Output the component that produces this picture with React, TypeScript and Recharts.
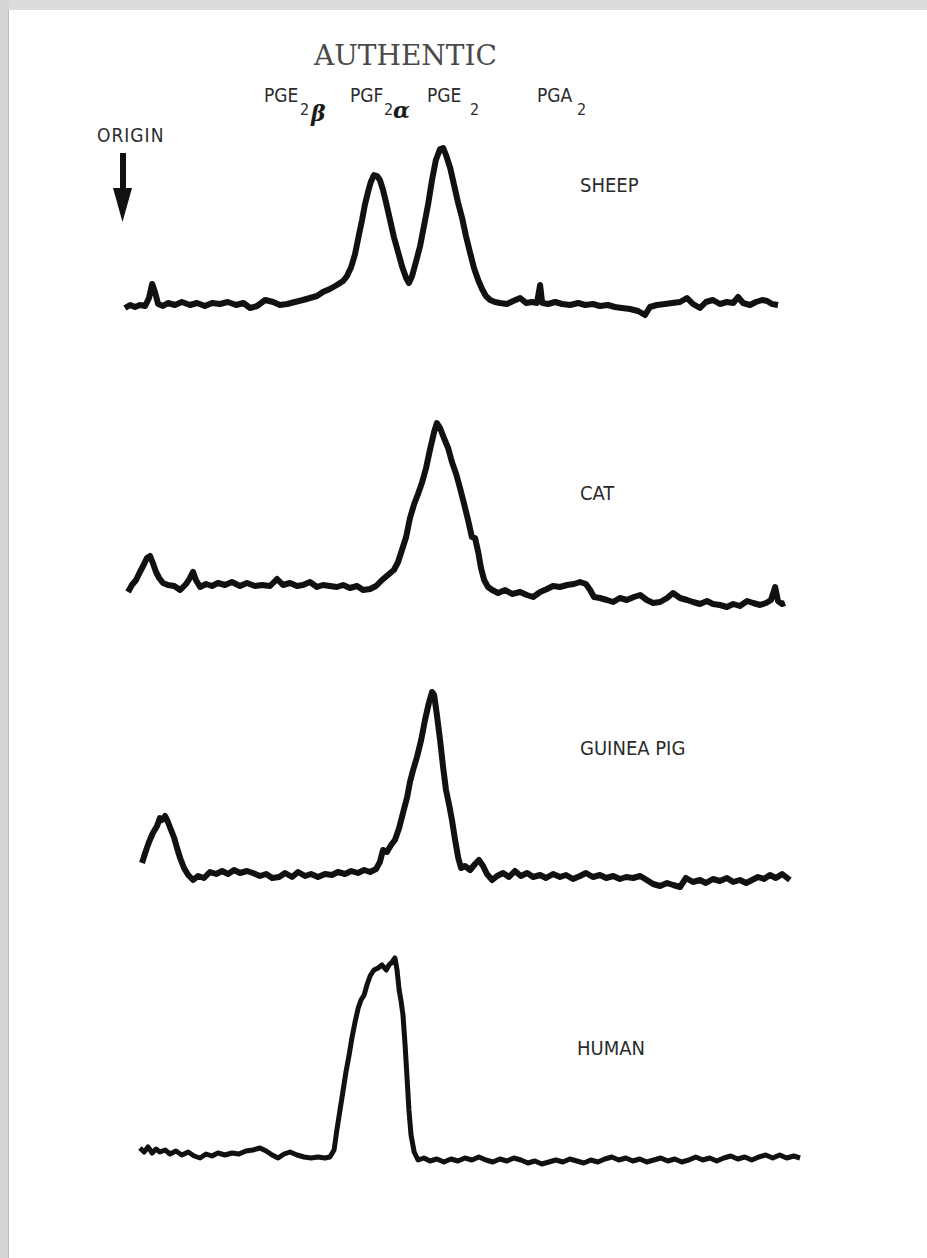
import React from "react";
import { LineChart, Line, XAxis, YAxis } from "recharts";

// Radiochromatogram scans: distance from origin (mm) and counts (arbitrary units)
const sheepMm = [
  0.7, 2.2, 3.6, 5.0, 6.5, 7.6, 8.5, 9.3, 10.2, 11.6,
  13.0, 15.0, 17.0, 19.3, 21.3, 23.6, 25.6, 27.9, 30.1, 32.5,
  34.6, 36.5, 38.5, 40.8, 43.1, 45.0, 47.1, 49.3, 51.6, 53.6,
  55.6, 57.3, 59.3, 61.3, 63.1, 64.2, 65.4, 66.5, 67.6, 68.5,
  69.3, 70.2, 71.0, 71.9, 72.8, 73.6, 74.5, 75.4, 76.5, 77.6,
  78.8, 79.9, 81.1, 81.9, 82.8, 83.9, 85.1, 86.2, 87.4, 88.5,
  89.6, 90.8, 91.7, 92.5, 93.7, 94.8, 95.9, 97.1, 98.2, 99.4,
  100.5, 101.7, 102.8, 103.9, 105.1, 106.5, 107.9, 109.9, 111.7, 113.7,
  115.4, 117.1, 118.5, 119.4, 120.0, 121.7, 123.7, 125.7, 128.0, 130.3,
  132.3, 134.5, 136.5, 138.8, 140.8, 142.8, 145.1, 147.4, 149.4, 150.8,
  152.8, 155.1, 157.1, 159.4, 161.4, 163.1, 165.1, 166.8, 168.8, 170.8,
  172.8, 174.6, 176.0, 177.4, 179.4, 181.1, 182.9, 184.3, 185.7, 187.4,
];
const sheepCpm = [
  6.0, 7.5, 6.5, 7.5, 7.0, 11, 18, 14, 8, 7,
  8.5, 7.5, 9, 7.5, 8.5, 7, 8.5, 8, 9, 7.5,
  8.5, 6, 7, 10, 9, 7.5, 8, 9, 10, 11,
  12, 14, 15.5, 17.5, 19.5, 22, 26.5, 33, 42.5, 50,
  57.5, 64, 69, 72.5, 72, 70, 65, 58.5, 50, 41.5,
  34, 27, 21, 18.5, 22, 29, 37, 47, 58, 70,
  80, 85.5, 86, 82.5, 76, 67.5, 59, 51, 42, 33.5,
  26, 20, 15.5, 12, 10, 9, 8.5, 8, 9.5, 11,
  8.5, 9, 8.5, 17.5, 8.5, 8, 9, 8, 7.5, 8.5,
  7.5, 8, 7, 7.5, 6.5, 6, 5.5, 4.5, 2.5, 6.5,
  7.5, 8, 8.5, 9, 11, 8, 6, 9, 10, 8,
  9, 8.5, 11.5, 8.5, 7.5, 9, 10, 9.5, 8, 7.5,
];

const catMm = [
  1.6, 2.7, 3.9, 5.0, 6.2, 7.0, 7.9, 8.7, 9.6, 10.5,
  11.6, 13.0, 14.8, 16.5, 18.2, 19.3, 20.2, 21.0, 22.2, 23.9,
  25.6, 27.3, 29.3, 31.3, 33.6, 35.6, 37.9, 39.9, 42.2, 44.2,
  45.9, 47.9, 49.9, 51.6, 53.6, 55.6, 57.3, 59.3, 61.3, 63.1,
  65.0, 67.1, 68.8, 70.8, 72.5, 74.2, 75.9, 77.6, 78.8, 79.9,
  81.1, 82.2, 83.4, 84.5, 85.7, 86.8, 87.9, 89.1, 89.9, 90.8,
  91.9, 93.1, 94.2, 95.4, 96.5, 97.6, 98.8, 99.9, 100.8, 101.7,
  102.5, 103.4, 104.5, 105.7, 107.4, 109.4, 111.4, 113.7, 115.6, 117.4,
  119.4, 121.4, 123.1, 125.1, 127.1, 129.1, 130.8, 132.5, 133.7, 134.8,
  136.5, 138.5, 140.3, 142.2, 144.2, 146.2, 148.0, 149.9, 151.7, 153.7,
  155.7, 157.4, 159.4, 161.4, 163.1, 165.1, 167.1, 168.8, 170.8, 172.8,
  174.6, 176.5, 178.6, 180.3, 182.3, 184.0, 185.4, 186.6, 187.4, 188.6,
  189.4,
];
const catCpm = [
  11.5, 15, 17.5, 21.5, 25.5, 28.5, 29.5, 26, 21.5, 18.5,
  16, 15, 14.5, 12.5, 15.5, 18.5, 21.5, 17.5, 14, 15.5,
  14.5, 16, 15, 16.5, 14.5, 16, 14.5, 15, 14.5, 18,
  15, 16, 14.5, 15, 16.5, 14, 15, 14.5, 14, 15,
  13.5, 14.5, 12.5, 13, 14.5, 17.5, 20, 22.5, 26.5, 32.5,
  39, 48.5, 55.5, 60.5, 66.5, 73.5, 82.5, 91.5, 96, 93.5,
  88.5, 83.5, 76.5, 70.5, 63.5, 56, 47.5, 39, 38.5, 31.5,
  23.5, 17.5, 14, 12.5, 11, 12.5, 10.5, 11.5, 10, 9,
  11.5, 13, 14.5, 14, 15, 15.5, 16.5, 15.5, 12.5, 9,
  8.5, 7.5, 6.5, 8.5, 7.5, 9, 10, 7.5, 6, 6.5,
  8.5, 11, 8.5, 7.5, 6.5, 5.5, 7, 5.5, 5, 4,
  5.5, 4.5, 7, 6, 5, 6, 7.5, 14, 7, 5.5,
  6,
];

const guineaPigMm = [
  5.6, 6.5, 7.6, 8.7, 9.9, 10.7, 11.3, 12.2, 13.0, 13.9,
  14.8, 15.6, 16.5, 17.6, 18.8, 20.2, 21.6, 23.3, 25.0, 26.8,
  28.5, 30.2, 31.9, 33.6, 35.6, 37.3, 39.3, 41.1, 42.8, 44.8,
  46.5, 48.5, 50.2, 52.2, 53.9, 55.9, 57.9, 59.9, 61.6, 63.6,
  65.4, 67.3, 69.1, 70.8, 72.5, 73.6, 74.5, 75.6, 76.8, 77.9,
  79.1, 80.2, 81.4, 82.2, 83.1, 84.2, 85.4, 86.5, 87.6, 88.5,
  89.1, 89.9, 90.8, 91.7, 92.5, 93.4, 94.2, 95.1, 96.0, 96.8,
  97.9, 99.4, 100.8, 101.9, 103.1, 104.2, 105.7, 107.1, 108.8, 110.5,
  112.2, 113.9, 115.7, 117.4, 119.4, 121.1, 123.1, 125.1, 126.8, 128.8,
  130.8, 132.5, 134.5, 136.5, 138.3, 140.3, 142.2, 144.0, 146.0, 148.0,
  149.9, 151.7, 153.7, 155.7, 157.4, 159.4, 161.1, 163.1, 165.1, 166.8,
  168.8, 170.8, 172.8, 174.6, 176.5, 178.3, 180.0, 181.7, 183.4, 185.1,
  186.8, 188.6, 189.7, 190.8,
];
const guineaPigCpm = [
  13.5, 18.5, 24, 28.5, 32, 36, 35, 37, 34, 30,
  26, 21, 16, 11, 7.5, 5, 7, 6, 9, 8,
  9.5, 8, 10, 8.5, 9.5, 8.5, 7, 8, 6, 6.5,
  8.5, 6.5, 9, 7, 8, 6.5, 8, 7.5, 9, 8,
  9.5, 8.5, 10, 9, 10.5, 14, 20, 19, 22.5, 25,
  31, 38.5, 46.5, 54, 60, 66.5, 75, 85, 93.5, 99,
  97.5, 87.5, 75, 61, 50, 42.5, 35, 25, 16, 11,
  12, 10, 13, 15, 12, 8, 5, 7, 8.5, 6.5,
  9.5, 7, 8.5, 6.5, 7.5, 6, 8, 6.5, 7.5, 5.5,
  7, 8.5, 6.5, 7.5, 6, 7, 5.5, 6.5, 6, 7,
  5, 3, 2, 3.5, 2.5, 1.5, 6, 4, 5, 3.5,
  5.5, 4.5, 6, 4, 5, 3.5, 5, 6.5, 5.5, 7.5,
  6, 8, 6.5, 5,
];

const humanMm = [
  5.0, 6.2, 7.3, 8.5, 9.6, 10.7, 12.2, 13.6, 15.3, 17.0,
  18.8, 20.5, 22.2, 23.9, 25.6, 27.3, 29.3, 31.3, 33.3, 35.3,
  37.3, 39.3, 41.1, 42.8, 44.5, 46.2, 47.9, 49.9, 51.9, 53.9,
  55.9, 57.9, 59.3, 60.5, 61.3, 62.2, 63.1, 63.9, 64.8, 65.6,
  66.5, 67.4, 68.2, 69.1, 69.9, 70.8, 71.9, 73.1, 74.2, 75.4,
  76.2, 77.1, 77.9, 78.5, 79.1, 79.6, 80.2, 80.8, 81.4, 81.9,
  82.5, 83.4, 84.5, 86.2, 87.9, 89.9, 91.9, 93.9, 95.9, 97.9,
  99.9, 101.9, 103.9, 105.9, 107.9, 109.9, 111.9, 113.9, 115.9, 117.9,
  119.9, 121.9, 123.9, 125.9, 127.9, 129.9, 131.9, 133.9, 135.9, 137.9,
  139.9, 141.9, 143.9, 145.9, 147.9, 149.9, 151.9, 153.9, 155.9, 157.9,
  159.9, 161.9, 163.9, 165.9, 167.9, 169.9, 171.9, 173.9, 175.9, 177.9,
  179.9, 181.9, 183.9, 185.9, 187.9, 189.9, 191.9, 193.7,
];
const humanCpm = [
  13.5, 11.5, 14, 11, 13, 11.5, 12.5, 10.5, 12, 10,
  11.5, 9.5, 8.5, 10.5, 9.5, 11, 10, 11, 10.5, 12,
  12.5, 13.5, 12, 10, 8.5, 10.5, 11.5, 10, 9, 8.5,
  9, 8.5, 9, 12.5, 22.5, 32.5, 42.5, 51.5, 60, 68.5,
  76.5, 83.5, 87.5, 90, 95, 99.5, 102.5, 103.5, 105, 102.5,
  105, 106.5, 108.5, 102.5, 92.5, 87.5, 80, 65, 47.5, 32.5,
  20, 11.5, 7.5, 8.5, 7, 8, 6.5, 8, 7, 8.5,
  7.5, 9, 7.5, 6.5, 8, 7, 8.5, 7.5, 6, 7,
  5.5, 6.5, 7.5, 6.5, 8, 7, 6, 7.5, 6.5, 8,
  9, 7.5, 8.5, 7, 8, 6.5, 7.5, 8.5, 7, 8,
  6.5, 7.5, 9, 7.5, 8.5, 7, 8.5, 9.5, 8, 9,
  7.5, 9, 10, 8.5, 10, 8.5, 9.5, 8.5,
];

const PAGE_W = 927;
const PAGE_H = 1258;
const STRIP_H = 240;
const LABEL_FONT = "'DejaVu Sans Condensed', 'DejaVu Sans', sans-serif";

const toRows = (mm: number[], cpm: number[]) =>
  mm.map((d, i) => ({ mm: d, cpm: cpm[i] }));

const scans = [
  { key: "sheep", top: 80, rows: toRows(sheepMm, sheepCpm), stroke: 6 },
  { key: "cat", top: 375, rows: toRows(catMm, catCpm), stroke: 6 },
  { key: "guineaPig", top: 650, rows: toRows(guineaPigMm, guineaPigCpm), stroke: 6 },
  { key: "human", top: 935, rows: toRows(humanMm, humanCpm), stroke: 5 },
];

const speciesLabels = [
  { text: "SHEEP", x: 580, y: 192 },
  { text: "CAT", x: 580, y: 500 },
  { text: "GUINEA PIG", x: 580, y: 755 },
  { text: "HUMAN", x: 577, y: 1055 },
];

const Scan = ({ rows, top, stroke }: { rows: { mm: number; cpm: number }[]; top: number; stroke: number }) => (
  <div style={{ position: "absolute", left: 0, top }}>
    <LineChart width={PAGE_W} height={STRIP_H} data={rows} margin={{ top: 0, right: 0, bottom: 0, left: 0 }}>
      <XAxis type="number" dataKey="mm" domain={[-35, 230]} hide allowDataOverflow />
      <YAxis type="number" domain={[0, 120]} hide allowDataOverflow />
      <Line
        type="linear"
        dataKey="cpm"
        stroke="#111"
        strokeWidth={stroke}
        strokeLinejoin="round"
        dot={false}
        isAnimationActive={false}
      />
    </LineChart>
  </div>
);

export default function App() {
  return (
    <div
      style={{
        position: "absolute",
        left: 0,
        top: 0,
        width: PAGE_W,
        height: PAGE_H,
        background: "#fff",
        overflow: "hidden",
      }}
    >
      <svg width={PAGE_W} height={PAGE_H} style={{ position: "absolute", left: 0, top: 0 }}>
        {/* scanned page edges */}
        <rect x={0} y={0} width={PAGE_W} height={10} fill="#dcdcdc" />
        <rect x={0} y={0} width={9} height={PAGE_H} fill="#d6d6d6" />
        <line x1={8.5} y1={10} x2={8.5} y2={PAGE_H} stroke="#bdbdbd" strokeWidth={1} />

        <text x={314} y={65} fontFamily="'DejaVu Serif', serif" fontSize={28} fill="#4a4a4a">
          AUTHENTIC
        </text>

        <g fontFamily={LABEL_FONT} fontStretch="condensed" fill="#2b2b2b">
          <text x={264} y={102} fontSize={19}>
            PGE<tspan x={300} y={115} fontSize={16}>2</tspan>
          </text>
          <text x={350} y={102} fontSize={19}>
            PGF<tspan x={384} y={115} fontSize={16}>2</tspan>
          </text>
          <text x={427} y={102} fontSize={19}>
            PGE<tspan x={470} y={115} fontSize={16}>2</tspan>
          </text>
          <text x={537} y={102} fontSize={19}>
            PGA<tspan x={577} y={115} fontSize={16}>2</tspan>
          </text>
          <text x={97} y={142} fontSize={19} letterSpacing={1}>
            ORIGIN
          </text>
          {speciesLabels.map((l) => (
            <text key={l.text} x={l.x} y={l.y} fontSize={20}>
              {l.text}
            </text>
          ))}
        </g>

        <g fontFamily="'DejaVu Serif', serif" fontStyle="italic" fontWeight="bold" fill="#1a1a1a">
          <text x={311} y={121} fontSize={22}>β</text>
          <text x={393} y={118} fontSize={22}>α</text>
        </g>

        {/* origin arrow */}
        <rect x={120} y={153} width={6} height={37} fill="#111" />
        <polygon points="113,188 132,188 122.5,222" fill="#111" />
      </svg>

      {scans.map((s) => (
        <Scan key={s.key} rows={s.rows} top={s.top} stroke={s.stroke} />
      ))}
    </div>
  );
}
